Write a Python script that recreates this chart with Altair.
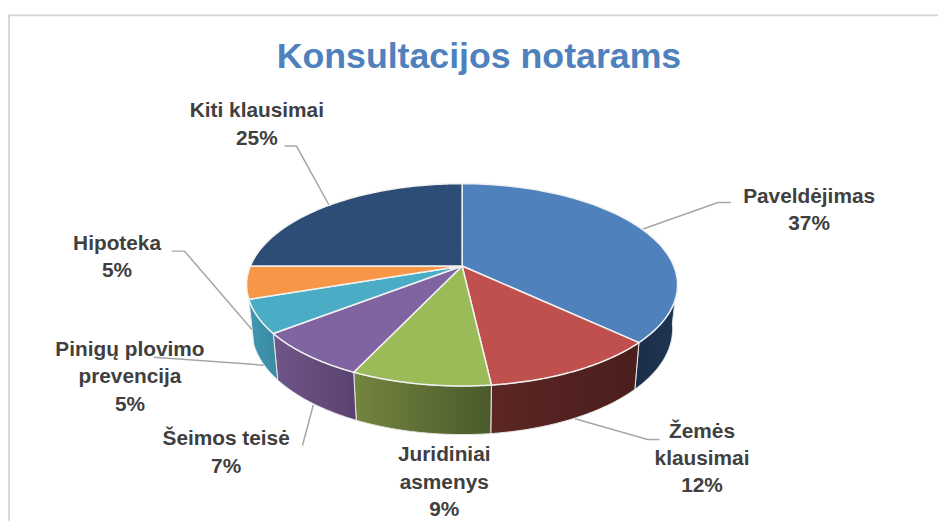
import math
import altair as alt
import pandas as pd

# Data
categories = ["Paveldėjimas", "Žemės klausimai", "Juridiniai asmenys", "Šeimos teisė",
              "Pinigų plovimo prevencija", "Hipoteka", "Kiti klausimai"]
shown_percent = [37, 12, 9, 7, 5, 5, 25]
drawn_share = [37.0, 11.2, 8.8, 7.5, 5.3, 5.2, 25.0]
top_colors = ["#4f81bd", "#c0504d", "#9bbb59", "#8064a2", "#4bacc6", "#f79646", "#2c4d75"]
side_left = ["#1e3552", "#5c2624", "#74853f", "#705689", "#3f97b0", None, None]
side_right = ["#1a2e49", "#4a1e1c", "#4a5a2b", "#5a4270", "#3a8ba3", None, None]

label_lines = [["Paveldėjimas", "37%"], ["Žemės", "klausimai", "12%"], ["Juridiniai", "asmenys", "9%"],
               ["Šeimos teisė", "7%"], ["Pinigų plovimo", "prevencija", "5%"], ["Hipoteka", "5%"],
               ["Kiti klausimai", "25%"]]
label_x = [816, 708, 448, 228, 131, 118, 259]
label_y = [196, 433, 457, 441, 351, 244, 110]
LINE_STEP = 27.5

leaders = [[(737, 202), (724, 202), (645, 230)],
           [(665, 441), (653, 441), (580, 420)],
           [(305, 447), (316, 406)],
           [(155, 358), (266, 366)],
           [(173, 251), (186, 251), (254, 330)],
           [(287, 145), (299, 145), (332, 205)]]

# Perspective projection of the disc
CX, CY, R, S, K = 466, 266, 213.5, 98.5, 0.186
W, H = 938, 515


def top(t):
    X, Y = math.sin(t), math.cos(t)
    w = 1 + K * Y
    return CX + R * X / w, CY - S * Y / w


def bottom(t):
    x, y = top(t)
    return CX + (x - CX) * 0.977, 387 + (y - 340) * 1.043


def arc(a, b, n=60):
    return [a + (b - a) * i / n for i in range(n + 1)]


edges = [0]
for v in drawn_share:
    edges.append(edges[-1] + v / sum(drawn_share) * 2 * math.pi)

x_scale = alt.Scale(domain=[8, 8 + W], nice=False, zero=False)
y_scale = alt.Scale(domain=[8 + H, 8], nice=False, zero=False)
enc = dict(x=alt.X("x:Q", scale=x_scale, axis=None), y=alt.Y("y:Q", scale=y_scale, axis=None),
           order="i:Q")


def poly(points, **mark):
    df = pd.DataFrame([{"x": p[0], "y": p[1], "i": i} for i, p in enumerate(points)])
    return alt.Chart(df).mark_line(interpolate="linear-closed", **mark).encode(**enc)


layers = []
# Frame
for pts in ([(9, 523), (9, 13), (946, 13)],):
    df = pd.DataFrame([{"x": p[0], "y": p[1], "i": i} for i, p in enumerate(pts)])
    layers.append(alt.Chart(df).mark_line(color="#d9d9d9", strokeWidth=2, clip=False).encode(**enc))

# Side walls
RIGHT_T = math.radians(98)
LEFT_T = math.radians(254)
for k in range(5):
    a = max(edges[k], RIGHT_T)
    b = min(edges[k + 1], LEFT_T) if k == 4 else edges[k + 1]
    ts = arc(a, b)
    pts = [top(t) for t in ts] + [bottom(t) for t in reversed(ts)]
    fill = alt.Gradient(gradient="linear", x1=0, x2=1, y1=0, y2=0,
                        stops=[alt.GradientStop(color=side_left[k] if k > 0 else side_right[k], offset=0),
                               alt.GradientStop(color=side_right[k] if k > 0 else side_left[k], offset=1)])
    layers.append(poly(pts, fill=fill, stroke="#e8e8e8", strokeWidth=1))

# Leaders
for n, pts in enumerate(leaders):
    df = pd.DataFrame([{"x": p[0], "y": p[1], "i": i} for i, p in enumerate(pts)])
    layers.append(alt.Chart(df).mark_line(color="#a6a6a6", strokeWidth=1.5).encode(**enc))

# Top slices
for k in range(7):
    pts = [(CX, CY)] + [top(t) for t in arc(edges[k], edges[k + 1], 90)]
    layers.append(poly(pts, fill=top_colors[k], stroke="#f2f2f2", strokeWidth=1.5, strokeJoin="round"))

# Labels
rows = []
for lines, x, y in zip(label_lines, label_x, label_y):
    for j, text in enumerate(lines):
        rows.append({"x": x, "y": y + j * LINE_STEP, "t": text})
layers.append(alt.Chart(pd.DataFrame(rows)).mark_text(
    font="Liberation Sans", fontWeight="bold", fontSize=21, color="#404040", align="center", baseline="middle"
).encode(x=enc["x"], y=enc["y"], text="t:N"))

# Title
layers.append(alt.Chart(pd.DataFrame([{"x": 483, "y": 55, "t": "Konsultacijos notarams"}])).mark_text(
    font="Liberation Sans", fontWeight="bold", fontSize=36, color="#4f81bd", align="center", baseline="middle"
).encode(x=enc["x"], y=enc["y"], text="t:N"))

chart = alt.layer(*layers).properties(width=W, height=H, padding=0, background="white",
                                      autosize=alt.AutoSizeParams(type="none")
                                      ).configure_view(stroke=None)
chart.save("out.html", embed_options={"renderer": "svg", "actions": False})
